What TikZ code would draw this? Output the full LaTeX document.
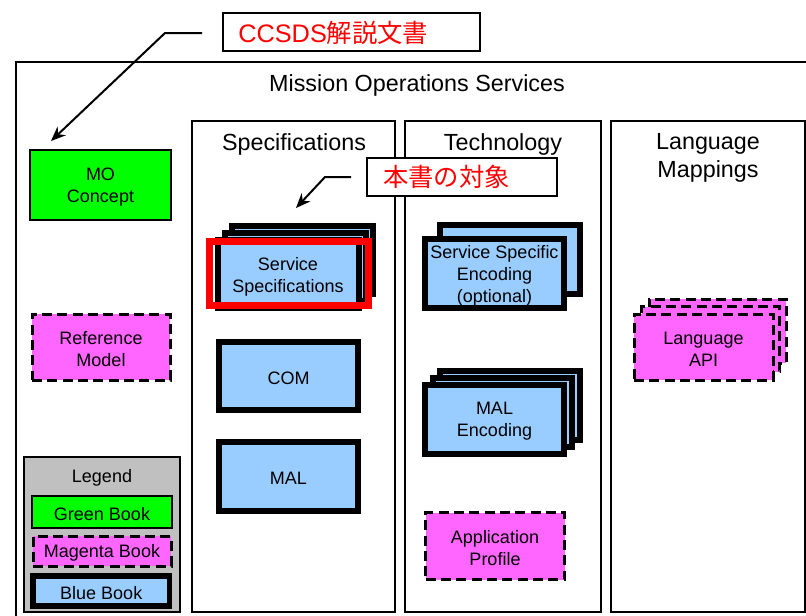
\documentclass[tikz,border=0pt]{standalone}
\usepackage{fontspec}
\setmainfont{Liberation Sans}
\newfontfamily\cjk{Noto Sans CJK JP}
\usetikzlibrary{fit,arrows.meta}
\definecolor{bookgreen}{RGB}{0,255,0}
\definecolor{bookmag}{RGB}{255,102,255}
\definecolor{bookblue}{RGB}{153,204,255}
\definecolor{legendgray}{RGB}{192,192,192}
\newcommand\bxfont{\fontsize{13.5}{16.5}\selectfont}
\newcommand\ttlfont{\fontsize{17.5}{21}\selectfont}
\newcommand\lblfont{\fontsize{19}{22}\selectfont}
\begin{document}
\begin{tikzpicture}[x=0.75pt,y=-0.75pt,
  area/.style={draw, inner sep=0pt, line width=1.5pt},
  ttl/.style={font=\ttlfont, align=center, inner sep=0pt, yshift=-1pt},
  bxt/.style={font=\bxfont, align=center, inner sep=0pt, yshift=-1.5pt},
  greenbook/.style={draw, fill=bookgreen, line width=1.5pt, inner sep=0pt, align=center, font=\bxfont},
  magbook/.style={draw, fill=bookmag, line width=2.25pt, dash pattern=on 7.5pt off 4pt, inner sep=0pt, align=center, font=\bxfont},
  bluebook/.style={draw, fill=bookblue, line width=4.5pt, inner sep=0pt, align=center, font=\bxfont},
  redlabel/.style={draw, fill=white, line width=1.5pt, inner sep=0pt},
  redtext/.style={font=\lblfont, text=red, anchor=west, inner sep=0pt},
  pointer/.style={line width=1.5pt, -{Stealth[length=11pt,width=9pt]}}]
\useasboundingbox (0,0) rectangle (806,615);
\clip (0,0) rectangle (806,615);
\fill[white] (0,0) rectangle (806,615);

% outer area
\node[area, fit={(16,62) (815,625)}] (outer) {};
\node[ttl, yshift=-0.5pt] (title) at (417,83) {Mission Operations Services};

% columns
\node[area, fit={(192,121) (395,612)}] (spec) {};
\node[area, fit={(405,121) (601,612)}] (tech) {};
\node[area, fit={(611,121) (805,612)}] (lang) {};
\node[ttl] (spect) at (294,143) {Specifications};
\node[ttl] (techt) at (503,143) {Technology};
\node[ttl] (langt) at (708,157) {Language\\Mappings};

% left column
\node[greenbook, fit={(30,150) (171,220)}] (mo) {};
\node[bxt] (mot) at (mo.center) {MO\\Concept};
\node[magbook, fit={(32,314) (170,380)}] (ref) {};
\node[bxt] (reft) at (ref.center) {Reference\\Model};

% legend
\node[area, fill=legendgray, fit={(24,457) (180,612)}] (legend) {};
\node[bxt] (legendt) at (102,476) {Legend};
\node[greenbook, fit={(32,496) (172,528)}] (lg) {};
\node[bxt] at (lg.center) {Green Book};
\node[magbook, fit={(33,536) (171,566)}] (lm) {};
\node[bxt] at (lm.center) {Magenta Book};
\node[bluebook, line width=4pt, fit={(33,576) (169.5,606)}] (lb) {};
\node[bxt] at (lb.center) {Blue Book};

% specifications column
\node[bluebook, fit={(232,226) (373,294)}] (ss3) {};
\node[bluebook, fit={(225,233) (366,301)}] (ss2) {};
\node[bluebook, fit={(218,240) (359,308)}] (ss1) {};
\node[bxt] (sst) at (288,275) {Service\\Specifications};
\node[draw=red, line width=5.25pt, inner sep=0pt, fit={(209.5,241.5) (368.5,305.5)}] (hl) {};
\node[bluebook, fit={(219,342) (358,410)}] (com) {};
\node[bxt] at (com.center) {COM};
\node[bluebook, fit={(219,442) (358,511)}] (mal) {};
\node[bxt] at (mal.center) {MAL};

% technology column
\node[bluebook, fit={(440,225) (580,294)}] (sse2) {};
\node[bluebook, fit={(425,239) (564,308)}] (sse1) {};
\node[bxt] (sset) at (sse1.center) {Service Specific\\Encoding\\(optional)};
\node[bluebook, fit={(440,371) (580,440)}] (me3) {};
\node[bluebook, fit={(432.5,378) (572,447)}] (me2) {};
\node[bluebook, fit={(425,385) (564,454)}] (me1) {};
\node[bxt] at (me1.center) {MAL\\Encoding};
\node[magbook, fit={(425.5,512.5) (564.5,579.5)}] (ap) {};
\node[bxt] at (ap.center) {Application\\Profile};

% language column
\node[magbook, fit={(649,299) (786,363)}] (api3) {};
\node[magbook, fit={(641.5,306.5) (779.5,371.5)}] (api2) {};
\node[magbook, fit={(634,314) (773,380)}] (api1) {};
\node[bxt] at (api1.center) {Language\\API};

% red labels
\node[redlabel, fit={(223,13) (480,51)}] (lab1) {};
\node[redtext] (lab1t) at (238,33) {CCSDS{\cjk 解説文書}};
\node[redlabel, fit={(367,158) (557,196)}] (lab2) {};
\node[redtext] (lab2t) at (383,177) {{\cjk 本書の対象}};

% pointers
\coordinate (p1s) at (202,33);
\coordinate (p1m) at (165,33);
\coordinate (p1e) at (51,141);
\draw[pointer] (p1s) -- (p1m) -- (p1e);
\coordinate (p2s) at (351,177);
\coordinate (p2m) at (325,177);
\coordinate (p2e) at (296,208);
\draw[pointer] (p2s) -- (p2m) -- (p2e);
\end{tikzpicture}
\end{document}
